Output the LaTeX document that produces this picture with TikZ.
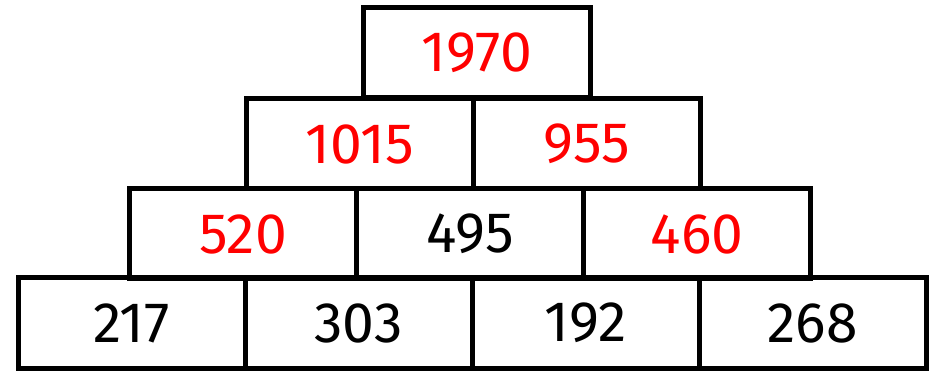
\documentclass[tikz,border=0pt]{standalone}
\usepackage{fontspec}
\setmainfont{Fira Sans}
\usepackage{tikz}
\usetikzlibrary{positioning}
\definecolor{sumred}{RGB}{255,0,0}
\tikzset{
  brick/.style={rectangle, draw=black, line width=5pt, inner sep=0pt, outer sep=0pt,
                minimum width=227pt, minimum height=90pt,
                font=\fontsize{57}{64}\selectfont},
  given/.style={brick, text=black},
  found/.style={brick, text=sumred}}
\begin{document}
\begin{tikzpicture}[x=1pt, y=-1pt]
\useasboundingbox (0,0) rectangle (934,371);
% bottom row
\node[given] (a1) at (131.5,323) {217};
\node[given, right=0pt of a1] (a2) {303};
\node[given, right=0pt of a2] (a3) {192};
\node[given, right=0pt of a3] (a4) {268};
% third row
\node[found] (b1) at (243,234) {520};
\node[given, right=0pt of b1] (b2) {495};
\node[found, right=0pt of b2] (b3) {460};
% second row
\node[found] (c1) at (359.5,144) {1015};
\node[found, right=0pt of c1] (c2) {955};
% top
\node[found] (d1) at (477,53) {1970};
\end{tikzpicture}
\end{document}
